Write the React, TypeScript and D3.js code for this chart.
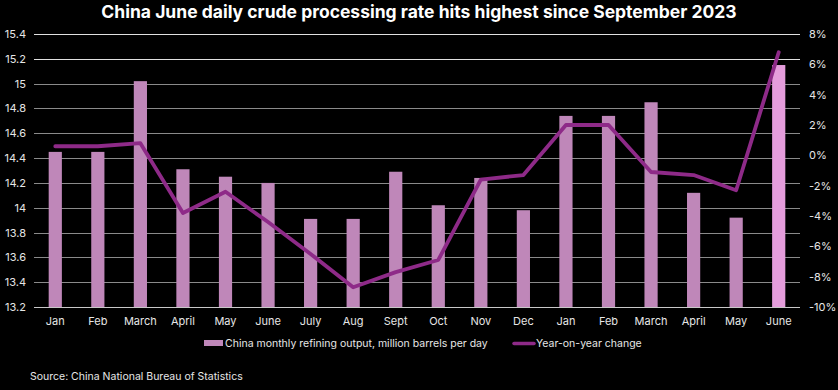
import React, { useEffect, useRef } from "react";
import * as d3 from "d3";

const months = ["Jan", "Feb", "March", "April", "May", "June", "July", "Aug", "Sept", "Oct", "Nov", "Dec", "Jan", "Feb", "March", "April", "May", "June"];
const output = [14.45, 14.45, 15.02, 14.31, 14.25, 14.2, 13.91, 13.91, 14.29, 14.02, 14.24, 13.98, 14.74, 14.74, 14.85, 14.12, 13.92, 15.15];
const yoy = [0.6, 0.6, 0.8, -3.8, -2.4, -4.4, -6.5, -8.7, -7.7, -6.9, -1.6, -1.3, 2.0, 2.0, -1.1, -1.3, -2.3, 6.8];
const leftTicks = [13.2, 13.4, 13.6, 13.8, 14, 14.2, 14.4, 14.6, 14.8, 15, 15.2, 15.4];
const rightTicks = [-10, -8, -6, -4, -2, 0, 2, 4, 6, 8];

const W = 838;
const H = 390;
const FONT = "Inter, 'Open Sans', sans-serif";

export default function App() {
  const svgRef = useRef<SVGSVGElement>(null);

  useEffect(() => {
    const svg = d3.select(svgRef.current);
    svg.selectAll("*").remove();

    const left = 34, right = 800, top = 34, bottom = 307;

    const x = d3.scaleBand<number>()
      .domain(months.map((_, i) => i))
      .range([left, right])
      .paddingInner(0.69)
      .paddingOuter(0.345);

    const y = d3.scaleLinear().domain([13.2, 15.4]).range([bottom, top]);
    const y2 = d3.scaleLinear().domain([-10, 8]).range([bottom, top]);

    svg.append("rect").attr("width", W).attr("height", H).attr("fill", "#000");

    // title
    svg.append("text")
      .attr("x", W / 2)
      .attr("y", 18)
      .attr("text-anchor", "middle")
      .attr("fill", "#fff")
      .attr("font-family", FONT)
      .attr("font-weight", "bold")
      .attr("font-size", 17.5)
      .text("China June daily crude processing rate hits highest since September 2023");

    // gridlines
    svg.append("g")
      .selectAll("line")
      .data(leftTicks)
      .join("line")
      .attr("x1", left)
      .attr("x2", right)
      .attr("y1", d => Math.round(y(d)) + 0.5)
      .attr("y2", d => Math.round(y(d)) + 0.5)
      .attr("stroke", d => (d >= 15.2 ? "#e0e0e0" : d === 13.2 ? "#c8c8c8" : "#8a8a8a"))
      .attr("stroke-width", 1);

    // left axis labels
    svg.append("g")
      .selectAll("text")
      .data(leftTicks)
      .join("text")
      .attr("x", 26)
      .attr("y", d => y(d) + 4)
      .attr("text-anchor", "end")
      .attr("fill", "#e6e6e6")
      .attr("font-family", FONT)
      .attr("font-size", 11)
      .text(d => d3.format("")(+d.toFixed(1)));

    // right axis labels
    svg.append("g")
      .selectAll("text")
      .data(rightTicks)
      .join("text")
      .attr("x", 809)
      .attr("y", d => y2(d) + 4)
      .attr("fill", "#e6e6e6")
      .attr("font-family", FONT)
      .attr("font-size", 11)
      .text(d => `${d}%`);

    // bars
    svg.append("g")
      .selectAll("rect")
      .data(output)
      .join("rect")
      .attr("x", (_, i) => x(i)!)
      .attr("width", x.bandwidth())
      .attr("y", d => y(d))
      .attr("height", d => bottom - y(d))
      .attr("fill", (_, i) => (i === output.length - 1 ? "#e59ddc" : "#bf87b9"));

    // x labels
    svg.append("g")
      .selectAll("text")
      .data(months)
      .join("text")
      .attr("x", (_, i) => x(i)! + x.bandwidth() / 2)
      .attr("y", 325)
      .attr("text-anchor", "middle")
      .attr("fill", "#e6e6e6")
      .attr("font-family", FONT)
      .attr("font-size", 11)
      .text(d => d);

    // yoy line
    const line = d3.line<number>()
      .x((_, i) => x(i)! + x.bandwidth() / 2)
      .y(d => y2(d));

    svg.append("path")
      .datum(yoy)
      .attr("fill", "none")
      .attr("stroke", "#8e2a88")
      .attr("stroke-width", 3.8)
      .attr("stroke-linejoin", "round")
      .attr("stroke-linecap", "round")
      .attr("d", line);

    // legend
    const lg = svg.append("g").attr("font-family", FONT).attr("font-size", 10.5).attr("fill", "#e6e6e6");
    lg.append("rect").attr("x", 204).attr("y", 340).attr("width", 19).attr("height", 6).attr("fill", "#bf87b9");
    lg.append("text").attr("x", 225).attr("y", 347).text("China monthly refining output, million barrels per day");
    lg.append("line").attr("x1", 514).attr("x2", 534).attr("y1", 343.5).attr("y2", 343.5)
      .attr("stroke", "#8e2a88").attr("stroke-width", 3.5).attr("stroke-linecap", "round");
    lg.append("text").attr("x", 536).attr("y", 347).text("Year-on-year change");

    // source
    svg.append("text")
      .attr("x", 30)
      .attr("y", 380)
      .attr("fill", "#e6e6e6")
      .attr("font-family", FONT)
      .attr("font-size", 10.5)
      .text("Source: China National Bureau of Statistics");
  }, []);

  return <svg ref={svgRef} width={W} height={H} style={{ display: "block", position: "absolute", left: 0, top: 0 }} />;
}
